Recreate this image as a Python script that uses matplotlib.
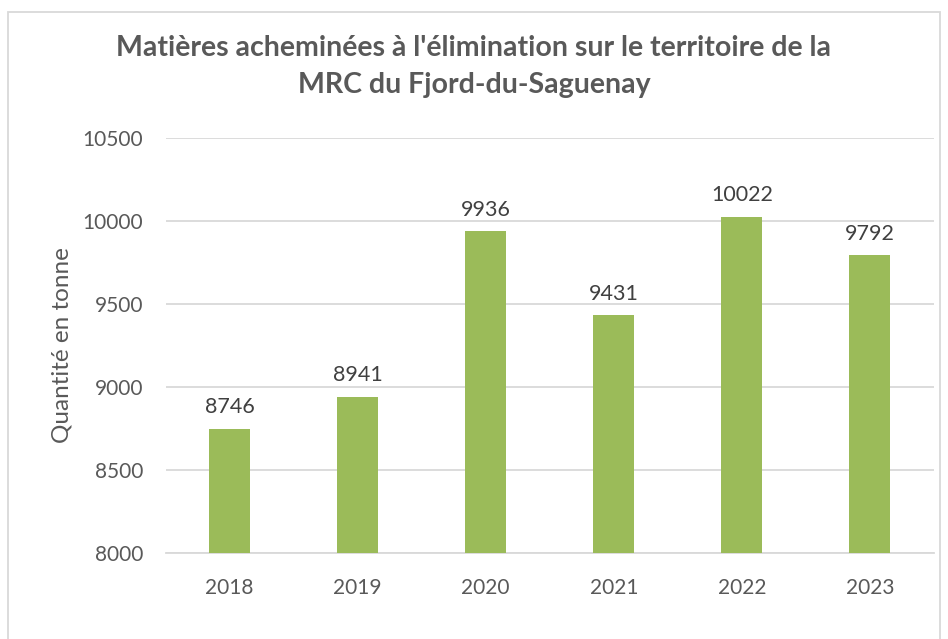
import matplotlib
matplotlib.use("Agg")
import matplotlib.pyplot as plt
from matplotlib.patches import Rectangle

years = ["2018", "2019", "2020", "2021", "2022", "2023"]
values = [8746, 8941, 9936, 9431, 10022, 9792]
yticks = [8000, 8500, 9000, 9500, 10000, 10500]

plt.rcParams['font.family'] = ['Lato', 'DejaVu Sans']

fig = plt.figure(figsize=(9.48, 6.39), dpi=100)
ax = fig.add_axes([0.1746, 0.135, 0.8106, 0.6495])

x = list(range(len(years)))
ax.bar(x, values, width=0.32, color="#9BBB59", zorder=3)
for xi, v in zip(x, values):
    ax.text(xi, v + 70, str(v), ha="center", va="bottom", fontsize=15.5, color="#404040")

ax.set_xlim(-0.5, len(years) - 0.5)
ax.set_ylim(8000, 10500)
ax.set_yticks(yticks)
ax.set_yticklabels([str(t) for t in yticks])
ax.set_xticks(x)
ax.set_xticklabels(years)
ax.tick_params(axis="both", length=0, labelsize=15, colors="#595959")
ax.tick_params(axis="y", pad=16)
ax.tick_params(axis="x", pad=18)
ax.grid(axis="y", color="#D9D9D9", linewidth=1.3, zorder=0)
for s in ["top", "right", "left"]:
    ax.spines[s].set_visible(False)
ax.spines["bottom"].set_color("#D9D9D9")
ax.spines["bottom"].set_linewidth(1.3)
ax.set_ylabel("Quantité en tonne", fontsize=17.5, color="#595959", labelpad=7)

fig.text(0.5, 0.896, "Matières acheminées à l'élimination sur le territoire de la\nMRC du Fjord-du-Saguenay",
         ha="center", va="center", fontsize=20.5, fontweight="bold", color="#595959", linespacing=1.55)

fig.patches.append(Rectangle((8/948, -0.05), (940-8)/948, 1.05 - 12/639, transform=fig.transFigure,
                             fill=False, edgecolor="#D9D9D9", linewidth=1.3))

fig.savefig("out.png", dpi=100)
